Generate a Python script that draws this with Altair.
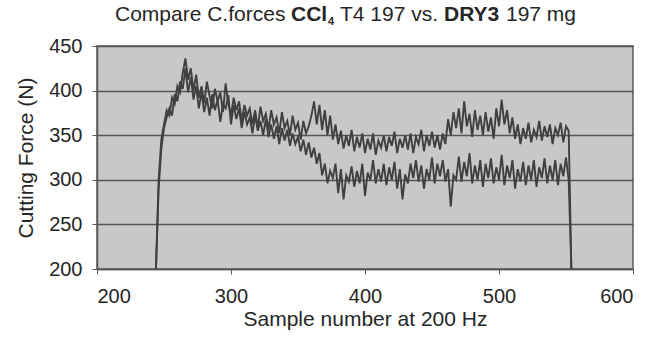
import altair as alt
import pandas as pd

# Sample numbers (every 2nd sample) and cutting forces
start_sample = 244
step = 2

force_a = [
    200, 300, 345, 362, 378, 372, 392, 385, 405, 398,
    420, 436, 412, 425, 400, 418, 392, 405, 386, 410,
    394, 380, 402, 388, 398, 376, 408, 385, 372, 392,
    378, 388, 366, 384, 372, 380, 362, 378, 358, 382,
    366, 374, 356, 378, 362, 370, 352, 376, 358, 366,
    350, 372, 356, 364, 345, 366, 352, 360, 372, 388,
    362, 384, 356, 378, 350, 372, 345, 362, 340, 355,
    335, 350, 338, 356, 332, 348, 336, 352, 330, 346,
    334, 352, 328, 344, 336, 350, 332, 348, 338, 354,
    330, 346, 336, 350, 334, 352, 330, 348, 340, 356,
    332, 350, 338, 354, 336, 350, 334, 352, 340, 368,
    350, 376, 358, 380, 352, 388, 360, 374, 348, 378,
    356, 372, 350, 376, 354, 370, 346, 380, 360, 390,
    362, 378, 352, 370, 346, 362, 340, 358, 346, 364,
    342, 356, 348, 366, 344, 360, 348, 362, 340, 358,
    350, 364, 342, 360, 355, 200,
]

force_b = [
    200, 290, 335, 358, 370, 380, 372, 396, 388, 410,
    402, 425, 398, 415, 390, 405, 380, 398, 376, 392,
    372, 396, 378, 390, 365, 385, 380, 395, 362, 384,
    368, 380, 358, 376, 362, 370, 352, 372, 355, 366,
    350, 368, 348, 362, 346, 360, 340, 358, 344, 356,
    338, 352, 340, 348, 332, 345, 328, 342, 325, 336,
    318, 330, 305, 318, 296, 310, 302, 318, 285, 312,
    278, 305, 298, 315, 292, 310, 296, 318, 282, 308,
    300, 322, 296, 312, 298, 318, 294, 314, 300, 320,
    290, 312, 278, 306, 296, 318, 302, 322, 298, 316,
    290, 312, 300, 325, 296, 318, 304, 322, 298, 312,
    270, 305, 300, 326, 298, 320, 304, 330, 296, 316,
    300, 322, 292, 318, 302, 324, 296, 314, 300, 328,
    294, 316, 302, 322, 290, 312, 298, 320, 294, 316,
    300, 322, 292, 314, 302, 324, 296, 316, 300, 322,
    294, 318, 304, 325, 300, 200,
]

series_names = ["DRY3 197 mg", "CCl4 T4 197"]
x_ticks = [200, 300, 400, 500, 600]
y_ticks = [200, 250, 300, 350, 400, 450]

samples_a = list(range(start_sample, start_sample + step * len(force_a), step))
samples_b = list(range(start_sample, start_sample + step * len(force_b), step))

df = pd.concat([
    pd.DataFrame({"sample": samples_a, "force": force_a, "series": series_names[0]}),
    pd.DataFrame({"sample": samples_b, "force": force_b, "series": series_names[1]}),
])

FONT = "Liberation Sans"
LINE = "#404040"
TXT = "#262626"

lines = alt.Chart(df).mark_line(strokeWidth=1.9, clip=True).encode(
    x=alt.X("sample:Q",
            scale=alt.Scale(domain=[200, 600], nice=False, zero=False),
            axis=alt.Axis(values=x_ticks, title="Sample number at 200 Hz", grid=False,
                          tickSize=5, labelPadding=12, titlePadding=2)),
    y=alt.Y("force:Q",
            scale=alt.Scale(domain=[200, 450], nice=False, zero=False),
            axis=alt.Axis(values=y_ticks, title="Cutting Force (N)", grid=True,
                          tickSize=5, labelPadding=10, titlePadding=12)),
    color=alt.Color("series:N", scale=alt.Scale(domain=series_names, range=[LINE, LINE]),
                    legend=None),
    detail="series:N",
)

# Title pieces (mixed normal / bold)
title_parts = [
    ("Compare C.forces", "normal", 18, -25, 21),
    ("CCl", "bold", 194, -25, 21),
    ("4", "bold", 231, -21, 11),
    ("T4 197 vs.", "normal", 243, -25, 21),
    ("DRY3", "bold", 347, -25, 21),
    ("197 mg", "normal", 409, -25, 21),
]
title_layers = []
for txt, weight, px, py, fs in title_parts:
    title_layers.append(
        alt.Chart(pd.DataFrame({"t": [txt]})).mark_text(
            align="left", baseline="alphabetic", font=FONT, fontSize=fs,
            fontWeight=weight, color=TXT
        ).encode(text="t:N", x=alt.value(px), y=alt.value(py))
    )

chart = alt.layer(lines, *title_layers).properties(
    width=536, height=223,
    autosize=alt.AutoSizeParams(type="none"),
    padding={"left": 97, "top": 46, "right": 22, "bottom": 71},
    background="white",
).configure_view(
    fill="#c8c8c8", stroke="#5a5a5a", strokeWidth=1.5
).configure_axis(
    labelFont=FONT, titleFont=FONT, labelFontSize=20, titleFontSize=21,
    labelColor=TXT, titleColor=TXT, titleFontWeight="normal",
    domainColor="#5a5a5a", domainWidth=1.5, tickColor="#5a5a5a",
    gridColor="#555555", gridWidth=1.3, gridOpacity=1,
)

chart.save("out.html", embed_options={"renderer": "svg", "actions": False})
